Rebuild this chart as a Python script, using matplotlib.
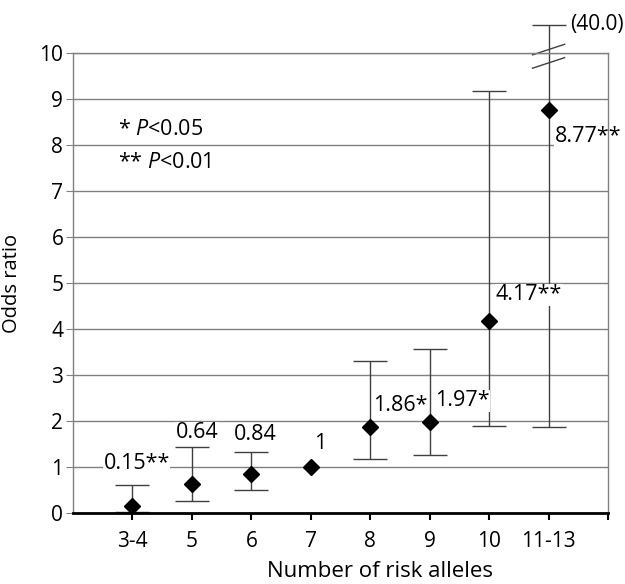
import numpy as np
import matplotlib.pyplot as plt

plt.rcParams['font.family'] = ['Open Sans', 'DejaVu Sans']
plt.rcParams['mathtext.fontset'] = 'custom'
plt.rcParams['mathtext.rm'] = 'Open Sans'
plt.rcParams['mathtext.it'] = 'Open Sans:italic'

# data
categories = ["3-4", "5", "6", "7", "8", "9", "10", "11-13"]
odds_ratio = [0.15, 0.64, 0.84, 1.0, 1.86, 1.97, 4.17, 8.77]
ci_low = [0.02, 0.25, 0.49, 1.0, 1.17, 1.25, 1.90, 1.86]
ci_high = [0.61, 1.43, 1.32, 1.0, 3.30, 3.57, 9.18, 40.0]
value_labels = ["0.15**", "0.64", "0.84", "1", "1.86*", "1.97*", "4.17**", "8.77**"]
# label centres (x offset in categories, y in odds ratio)
label_dx = [0.07, 0.09, 0.06, 0.15, 0.50, 0.55, 0.67, 0.66]
label_y = [1.08, 1.74, 1.70, 1.50, 2.33, 2.44, 4.74, 8.18]

ymax = 10
bar_top = 10.6  # where the broken bar is drawn

fig = plt.figure(figsize=(6.25, 5.84), dpi=100)
ax = fig.add_axes([0.1168, 0.1216, 0.8560, 0.7876])

x = np.arange(len(categories))
hi_drawn = np.minimum(ci_high, bar_top)
err = [np.array(odds_ratio) - np.array(ci_low), hi_drawn - np.array(odds_ratio)]
has_bar = np.array(ci_low) != np.array(ci_high)

eb = ax.errorbar(x[has_bar], np.array(odds_ratio)[has_bar],
                 yerr=[e[has_bar] for e in err], fmt='none',
                 ecolor='#404040', elinewidth=1, capsize=12.5, capthick=1, zorder=3)
for artist in eb.lines[1] + eb.lines[2]:
    artist.set_clip_on(False)
ax.plot(x, odds_ratio, 'D', color='black', markersize=8.5, zorder=5, clip_on=False)

for xi, dx, yl, txt in zip(x, label_dx, label_y, value_labels):
    ax.text(xi + dx, yl, txt, ha='center', va='center', fontsize=15.5, zorder=4,
            bbox=dict(facecolor='white', edgecolor='none', pad=0.5))

# axis break on the last bar
xb = x[-1]
for y0 in (9.67, 9.96):
    ax.plot([xb - 0.27, xb + 0.27], [y0, y0 + 0.23], color='#404040', lw=1,
            clip_on=False, zorder=4)
ax.text(xb + 0.37, bar_top + 0.03, "(%.1f)" % ci_high[-1], ha='left', va='center',
        fontsize=15)

ax.text(-0.24, 8.33, "* $P$<0.05", ha='left', va='center', fontsize=15.5)
ax.text(-0.24, 7.61, "** $P$<0.01", ha='left', va='center', fontsize=15.5)

ax.set_xlim(-1, len(categories))
ax.set_ylim(0, ymax)
ax.set_xticks(np.arange(len(categories) + 1))
ax.set_xticklabels(categories + [""], fontsize=15)
ax.set_yticks(range(0, ymax + 1))
ax.tick_params(axis='y', labelsize=15, length=5, color='#808080', pad=2)
ax.tick_params(axis='x', length=5, width=1.5, color='black', pad=8)
ax.yaxis.grid(True, color='#808080', lw=1)
ax.set_axisbelow(True)
for side in ('left', 'right', 'top'):
    ax.spines[side].set_color('#808080')
    ax.spines[side].set_linewidth(1)
    ax.spines[side].set_zorder(6)
ax.spines['bottom'].set_linewidth(2)
ax.spines['bottom'].set_zorder(6)

ax.set_ylabel("Odds ratio", fontsize=14.5)
ax.yaxis.set_label_coords(-0.095, 0.5)
fig.text(0.608, 0.022, "Number of risk alleles", ha='center', va='center', fontsize=16)

fig.savefig("out.png", dpi=100)
